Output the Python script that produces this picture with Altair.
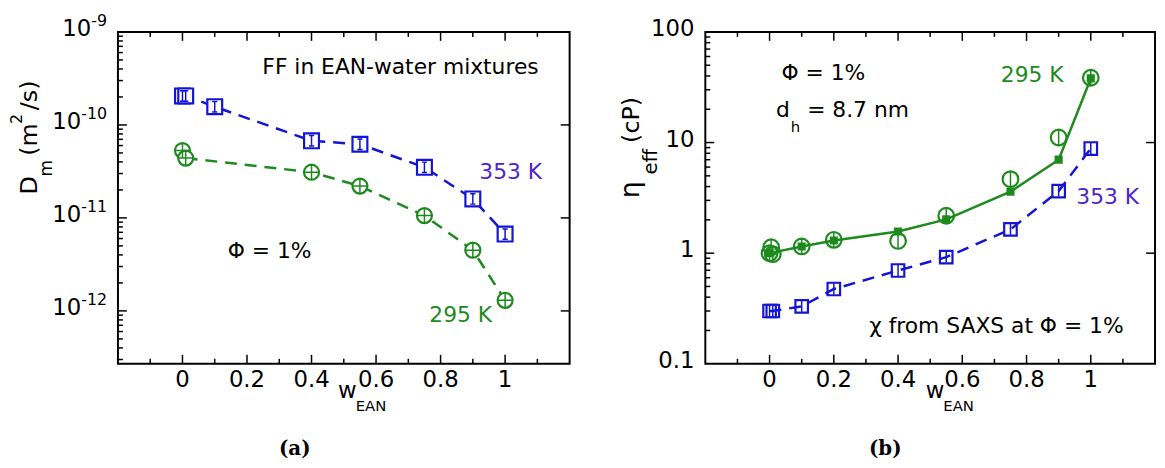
import altair as alt
import pandas as pd

BLUE = "#1414D4"
GREEN = "#1E8A1E"
PURPLE = "#4B25CF"
FONT = "DejaVu Sans"
SERIF = "DejaVu Serif"

# ---------------- panel (a): D_m vs w_EAN ----------------
a353_w = [0.0, 0.01, 0.1, 0.4, 0.55, 0.75, 0.9, 1.0]
a353_D = [2.05e-10, 2.05e-10, 1.57e-10, 6.75e-11, 6.2e-11, 3.5e-11, 1.6e-11, 6.7e-12]
a295_w = [0.0, 0.01, 0.4, 0.55, 0.75, 0.9, 1.0]
a295_D = [5.3e-11, 4.4e-11, 3.1e-11, 2.2e-11, 1.06e-11, 4.5e-12, 1.3e-12]
a295_line_w = [0.01, 0.4, 0.55, 0.75, 0.9, 1.0]
a295_line_D = [4.4e-11, 3.1e-11, 2.2e-11, 1.06e-11, 4.5e-12, 1.3e-12]

# ---------------- panel (b): eta_eff vs w_EAN ----------------
b295_w = [0.0, 0.005, 0.01, 0.1, 0.2, 0.4, 0.55, 0.75, 0.9, 1.0]
b295_eta = [1.0, 1.13, 0.98, 1.15, 1.32, 1.29, 2.18, 4.67, 11.1, 38.5]
b295c_w = [0.0, 0.1, 0.2, 0.4, 0.55, 0.75, 0.9, 1.0]
b295c_eta = [1.0, 1.15, 1.3, 1.57, 2.02, 3.59, 7.0, 38.0]
b353_w = [0.0, 0.01, 0.1, 0.2, 0.4, 0.55, 0.75, 0.9, 1.0]
b353_eta = [0.30, 0.30, 0.33, 0.474, 0.697, 0.92, 1.64, 3.64, 8.83]

# ---------------- ticks & labels ----------------
x_labels = [0.0, 0.2, 0.4, 0.6, 0.8, 1.0]
x_label_text = ["0", "0.2", "0.4", "0.6", "0.8", "1"]
x_minor = [-0.1, 0.1, 0.3, 0.5, 0.7, 0.9, 1.1]
a_y_labels_2d = [1e-12, 1e-11, 1e-10]
a_y_exp_2d = ["-12", "-11", "-10"]
a_y_labels_1d = [1e-9]
a_y_exp_1d = ["-9"]
a_y_major = [1e-12, 1e-11, 1e-10]
a_y_minor = [3e-13, 4e-13, 5e-13, 6e-13, 7e-13, 8e-13, 9e-13,
             2e-12, 3e-12, 4e-12, 5e-12, 6e-12, 7e-12, 8e-12, 9e-12,
             2e-11, 3e-11, 4e-11, 5e-11, 6e-11, 7e-11, 8e-11, 9e-11,
             2e-10, 3e-10, 4e-10, 5e-10, 6e-10, 7e-10, 8e-10, 9e-10]
b_y_labels = [0.1, 1, 10, 100]
b_y_label_text = ["0.1", "1", "10", "100"]
b_y_major = [1, 10]
b_y_minor = [0.2, 0.3, 0.4, 0.5, 0.6, 0.7, 0.8, 0.9,
             2, 3, 4, 5, 6, 7, 8, 9,
             20, 30, 40, 50, 60, 70, 80, 90]

W_A, W_B, H = 456, 454, 335
XS = alt.Scale(domain=[-0.2, 1.2], nice=False, zero=False)
MAJ, MIN = 9, 5
LPAD = 11

SQ_BAR = "M0,-0.7V0.7M-0.35,-0.7H0.35M-0.35,0.7H0.35"
CROSS = "M0,-1V1M-1,0H1"
VBAR = "M0,-1V1"


def df(**cols):
    return pd.DataFrame(cols)


def X(field="x"):
    return alt.X(f"{field}:Q", scale=XS, axis=None)


def Y(ys, field="y"):
    return alt.Y(f"{field}:Q", scale=ys, axis=None)


def frame_ticks(W, ys, ymaj, ymin):
    out = []
    for vals, L in ((x_labels, MAJ), (x_minor, MIN)):
        d = df(x=vals)
        out.append(alt.Chart(d).mark_rule(color="black", strokeWidth=1.5).encode(
            x=X(), y=alt.value(H), y2=alt.value(H - L)))
        out.append(alt.Chart(d).mark_rule(color="black", strokeWidth=1.5).encode(
            x=X(), y=alt.value(0), y2=alt.value(L)))
    for vals, L in ((ymaj, MAJ), (ymin, MIN)):
        d = df(y=vals)
        out.append(alt.Chart(d).mark_rule(color="black", strokeWidth=1.5).encode(
            y=Y(ys), x=alt.value(0), x2=alt.value(L)))
    d = df(y=ymaj)
    out.append(alt.Chart(d).mark_rule(color="black", strokeWidth=1.5).encode(
        y=Y(ys), x=alt.value(W), x2=alt.value(W - MAJ)))
    return out


def x_tick_labels():
    return alt.Chart(df(x=x_labels, t=x_label_text)).mark_text(
        align="center", baseline="alphabetic", font=FONT, fontSize=23, color="black").encode(
        x=X(), y=alt.value(H + 23), text="t:N")


def y_tick_labels(ys, yvals, ytext, xpos=-LPAD, size=23, dy=4):
    return alt.Chart(df(y=yvals, t=ytext)).mark_text(
        align="right", baseline="alphabetic", font=FONT, fontSize=size, color="black", dy=dy).encode(
        y=Y(ys), x=alt.value(xpos), text="t:N")


def line(xv, yv, ys, color, dash=None):
    kw = dict(color=color, strokeWidth=2.5)
    if dash:
        kw["strokeDash"] = dash
    return alt.Chart(df(x=xv, y=yv)).mark_line(**kw).encode(x=X(), y=Y(ys))


def pts(xv, yv, ys, shape, size, color, fill=None, sw=2.2):
    if fill:
        m = alt.Chart(df(x=xv, y=yv)).mark_point(
            shape=shape, size=size, filled=True, fill=fill, stroke=color,
            strokeWidth=sw, opacity=1, fillOpacity=1)
    else:
        m = alt.Chart(df(x=xv, y=yv)).mark_point(
            shape=shape, size=size, filled=False, stroke=color, strokeWidth=sw, opacity=1)
    return m.encode(x=X(), y=Y(ys))


def label(x, y, txt, ys, color="black", size=22, align="left"):
    return alt.Chart(df(x=[x], y=[y], t=[txt])).mark_text(
        align=align, baseline="alphabetic", font=FONT, fontSize=size, color=color).encode(
        x=X(), y=Y(ys), text="t:N")


def fixed(x, y, txt, size, angle=None, align="left", font=FONT, weight="normal", xdata=None):
    kw = dict(align=align, baseline="alphabetic", font=font, fontSize=size,
              color="black", text=txt, fontWeight=weight)
    if angle is not None:
        kw["angle"] = angle
    c = alt.Chart(df(x=[xdata if xdata is not None else 0.0])).mark_text(**kw)
    if xdata is not None:
        return c.encode(x=X(), y=alt.value(y))
    return c.encode(x=alt.value(x), y=alt.value(y))


# ---------------- build panel (a) ----------------
YA = alt.Scale(type="log", domain=[2.7e-13, 1e-9], nice=False)
SUP = 16
ya_labels = [
    y_tick_labels(YA, a_y_labels_2d, ["10"] * 3, xpos=-LPAD - 26),
    y_tick_labels(YA, a_y_labels_2d, a_y_exp_2d, size=SUP, dy=-6),
    y_tick_labels(YA, a_y_labels_1d, ["10"], xpos=-LPAD - 16),
    y_tick_labels(YA, a_y_labels_1d, a_y_exp_1d, size=SUP, dy=-6),
]
layers_a = frame_ticks(W_A, YA, a_y_major, a_y_minor) + [x_tick_labels()] + ya_labels + [
    line(a353_w, a353_D, YA, BLUE, [12, 8]),
    line(a295_line_w, a295_line_D, YA, GREEN, [12, 8]),
    pts(a353_w, a353_D, YA, "square", 225, BLUE, fill="white"),
    pts(a353_w, a353_D, YA, SQ_BAR, 225, BLUE, sw=1.5),
    pts(a295_w, a295_D, YA, "circle", 230, GREEN, fill="white"),
    pts(a295_w, a295_D, YA, CROSS, 230, GREEN, sw=1.5),
    label(1.104, 3.52e-10, "FF in EAN-water mixtures", YA, align="right"),
    label(0.92, 2.62e-11, "353 K", YA, color=PURPLE),
    label(0.14, 3.69e-12, "Φ = 1%", YA),
    label(0.765, 7.6e-13, "295 K", YA, color=GREEN),
    # y title: D_m (m^2/s)
    fixed(-81.7, 164, "D", 24, angle=270),
    fixed(-66.7, 146, "m", 17, angle=270),
    fixed(-81.7, 125, "(m", 24, angle=270),
    fixed(-96.7, 93, "2", 16, angle=270),
    fixed(-81.7, 79, "/s)", 24, angle=270),
    # x title: w_EAN
    fixed(0, 370, "w", 23, xdata=0.482),
    fixed(0, 383, "EAN", 15, xdata=0.537),
    # caption
    fixed(0, 427, "(a)", 20, align="center", font=SERIF, weight="bold", xdata=0.348),
]
chart_a = alt.layer(*layers_a).properties(width=W_A, height=H)

# ---------------- build panel (b) ----------------
YB = alt.Scale(type="log", domain=[0.1, 100], nice=False)
layers_b = frame_ticks(W_B, YB, b_y_major, b_y_minor) + [
    x_tick_labels(), y_tick_labels(YB, b_y_labels, b_y_label_text)] + [
    line(b353_w, b353_eta, YB, BLUE, [12, 8]),
    line(b295c_w, b295c_eta, YB, GREEN),
    pts(b353_w, b353_eta, YB, "square", 160, BLUE),
    pts(b353_w, b353_eta, YB, VBAR, 120, BLUE, sw=1.5),
    pts(b295c_w, b295c_eta, YB, "square", 36, GREEN, fill=GREEN),
    pts(b295_w, b295_eta, YB, "circle", 250, GREEN),
    pts(b295_w, b295_eta, YB, VBAR, 260, GREEN, sw=1.5),
    label(0.037, 36.4, "Φ = 1%", YB),
    label(0.02, 16.9, "d", YB),
    label(0.066, 12.4, "h", YB, size=15),
    label(0.117, 16.9, "= 8.7 nm", YB),
    label(0.72, 35.6, "295 K", YB, color=GREEN),
    label(0.955, 2.78, "353 K", YB, color=PURPLE),
    label(0.31, 0.191, "χ from SAXS at Φ = 1%", YB),
    # y title: eta_eff (cP)
    fixed(-67, 168, "η", 27, angle=270),
    fixed(-49, 144, "eff", 20, angle=270),
    fixed(-67, 112, "(cP)", 24, angle=270),
    # x title
    fixed(0, 370, "w", 23, xdata=0.486),
    fixed(0, 383, "EAN", 15, xdata=0.541),
    fixed(0, 427, "(b)", 20, align="center", font=SERIF, weight="bold", xdata=0.36),
]
chart_b = alt.layer(*layers_b).properties(width=W_B, height=H)

chart = alt.hconcat(chart_a, chart_b, spacing=137, bounds="flush").properties(
    padding={"left": 0, "top": 2, "right": 0, "bottom": 0}
).configure_view(stroke="black", strokeWidth=2)

chart.save("out.html", embed_options={"renderer": "svg", "actions": False})
